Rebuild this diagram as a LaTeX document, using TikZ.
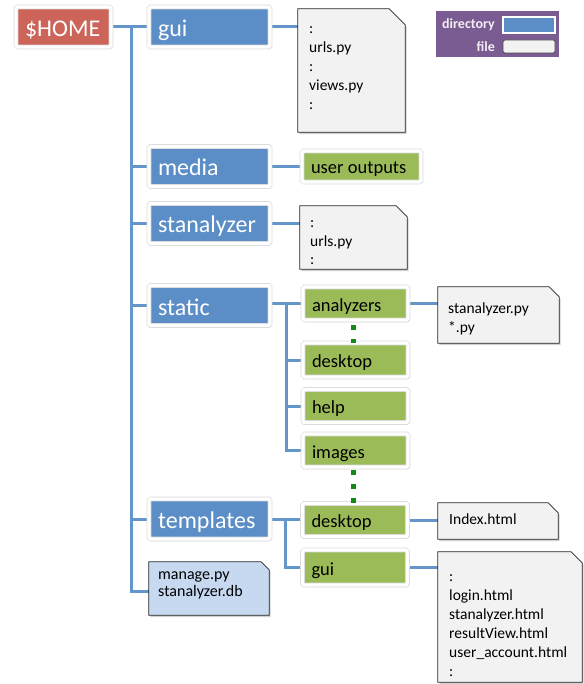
\documentclass[tikz,border=0pt]{standalone}
\usepackage{fontspec}
\setmainfont{Carlito}
\usetikzlibrary{shadows,backgrounds,calc}
\definecolor{dirblue}{HTML}{5B8EC6}
\definecolor{homered}{HTML}{CC6459}
\definecolor{leafgreen}{HTML}{9BBB59}
\definecolor{filegray}{HTML}{F2F2F2}
\definecolor{legpurple}{HTML}{7A5B92}
\definecolor{lightblue}{HTML}{C6D9F1}
\definecolor{dotgreen}{HTML}{13891B}
\definecolor{linkblue}{HTML}{6495CB}
\tikzset{
 boxshadow/.style={drop shadow={shadow xshift=1.5pt, shadow yshift=-2pt, opacity=0.3, fill=black!60}},
 framed/.style={draw=black!15, line width=0.6pt, double=white, double distance=3.4pt, rounded corners=1.5pt, boxshadow, inner ysep=0pt, inner xsep=9pt, align=left},
 dirbox/.style={framed, fill=dirblue, text=white, font=\fontsize{24}{26}\selectfont, text width=103pt, text height=19pt, text depth=0pt, minimum height=40pt},
 homebox/.style={dirbox, fill=homered, text width=77pt},
 leafbox/.style={framed, fill=leafgreen, text=black, font=\fontsize{18.5}{21}\selectfont, text width=87pt, text height=15pt, text depth=0pt, minimum height=33pt},
 fileframe/.style={rectangle, inner sep=0pt, draw=none},
 fileline/.style={draw=black!85, line width=0.8pt, boxshadow},
 ftext/.style={anchor=west, align=left, inner sep=0pt, font=\fontsize{15.5}{19}\selectfont, text=black},
 legtext/.style={text=white!90!legpurple, font=\bfseries\fontsize{14}{16}\selectfont, inner sep=0pt},
 link/.style={linkblue, line width=3pt},
 dots/.style={dotgreen, line width=5pt, dash pattern=on 5pt off 9pt},
}
\newcommand\filebody[3]{%
 \path[fileline, fill=#3] (#1.north west) -- ([xshift=-#2pt]#1.north east) -- ([yshift=-#2pt]#1.north east) -- (#1.south east) -- (#1.south west) -- cycle;}
\begin{document}
\begin{tikzpicture}[x=1pt,y=-1pt]
\useasboundingbox (0,0) rectangle (583,684);
% directories
\node[homebox] (home) at (63.5,27) {\$HOME};
\node[dirbox] (gui) at (209.5,27) {gui};
\node[dirbox] (media) at (209.5,166.5) {media};
\node[dirbox] (stan) at (209.5,223.5) {stanalyzer};
\node[dirbox] (static) at (209.5,305.5) {static};
\node[dirbox] (templates) at (209.5,519) {templates};
% leaves
\node[leafbox, text width=101pt, minimum height=31pt] (uout) at (361.5,166.5) {user\hspace{4.3pt}outputs};
\node[leafbox] (analyzers) at (355.5,303.5) {analyzers};
\node[leafbox, minimum height=34pt] (sdesk) at (355.5,360) {desktop};
\node[leafbox] (help) at (355.5,406) {help};
\node[leafbox] (images) at (355.5,450.5) {images};
\node[leafbox] (tdesk) at (355,520) {desktop};
\node[leafbox, minimum height=35pt] (tgui) at (355,567.5) {gui};
% files
\node[fileframe, minimum width=107pt, minimum height=123pt] (fgui) at (351.5,70.5) {};
\filebody{fgui}{16}{filegray}
\node[ftext] (fguit) at (309,67.5) {\strut:\\urls.py\\:\\views.py\\:\strut};
\node[fileframe, minimum width=107pt, minimum height=63pt] (fstan) at (353.5,237.5) {};
\filebody{fstan}{11}{filegray}
\node[ftext, font=\fontsize{15.5}{18.5}\selectfont] (fstant) at (310,242.5) {\strut:\\urls.py\\:\strut};
\node[fileframe, minimum width=121pt, minimum height=56pt] (fana) at (498.5,315) {};
\filebody{fana}{10}{filegray}
\node[ftext] (fanat) at (448,319.5) {\strut stanalyzer.py\\*.py\strut};
\node[fileframe, minimum width=120pt, minimum height=36pt] (findex) at (498,521) {};
\filebody{findex}{10}{filegray}
\node[ftext] (findext) at (449,521) {\strut Index.html};
\node[fileframe, minimum width=144pt, minimum height=130pt] (ftgui) at (510,617) {};
\filebody{ftgui}{11}{filegray}
\node[ftext] (ftguit) at (449,625) {\strut:\\login.html\\stanalyzer.html\\resultView.html\\user\_account.html\\:\strut};
\node[fileframe, minimum width=120pt, minimum height=53pt] (manage) at (209,588.5) {};
\filebody{manage}{8}{lightblue}
\node[ftext, font=\fontsize{16}{17}\selectfont] (managet) at (158,584.5) {\strut manage.py\\stanalyzer.db\strut};
% legend
\node[fill=legpurple, minimum width=123pt, minimum height=46pt, inner sep=0pt] (legend) at (497.5,34) {};
\node[legtext, anchor=east] (ldir) at (495,25) {directory};
\node[fill=dirblue, draw=white, line width=1.5pt, minimum width=52pt, minimum height=16pt, inner sep=0pt] (ldirbox) at (529,25) {};
\node[legtext, anchor=east] (lfile) at (495,46.5) {file};
\node[fill=filegray, draw=black!70, line width=0.8pt, rounded corners=1.5pt, minimum width=52pt, minimum height=13pt, inner sep=0pt] (lfilebox) at (529,46.5) {};
% connectors
\coordinate (trunk) at (131,27);
\coordinate (sbr) at (286,303.5);
\coordinate (tbr) at (285,520);
\begin{scope}[on background layer]
\draw[link] (home.east) -- (gui.west);
\draw[link] (trunk) |- (media.west);
\draw[link] (trunk) |- (stan.west);
\draw[link] (trunk) |- (static.west);
\draw[link] (trunk) |- (templates.west);
\draw[link] (trunk) |- ([yshift=-3pt]manage.west);
\draw[link] (gui.east) -- (gui.east -| fgui.west);
\draw[link] (media.east) -- (uout.west);
\draw[link] (stan.east) -- (stan.east -| fstan.west);
\draw[link] (static.east |- analyzers.west) -- (analyzers.west);
\draw[link] (sbr) |- (sdesk.west);
\draw[link] (sbr) |- (help.west);
\draw[link] (sbr) |- (images.west);
\draw[link] (analyzers.east) -- (analyzers.east -| fana.west);
\draw[link] (templates.east) -- (templates.east -| tdesk.west);
\draw[link] (tbr) |- (tgui.west);
\draw[link] (tdesk.east) -- (tdesk.east -| findex.west);
\draw[link] (tgui.east) -- (tgui.east -| ftgui.west);
\end{scope}
\draw[dots, dash phase=9.5pt] ([xshift=-2.5pt]analyzers.south) -- ([xshift=-2.5pt]sdesk.north);
\draw[dots, dash phase=11.5pt] ([xshift=-2.5pt]images.south) -- ([xshift=-2pt]tdesk.north);
\end{tikzpicture}
\end{document}
